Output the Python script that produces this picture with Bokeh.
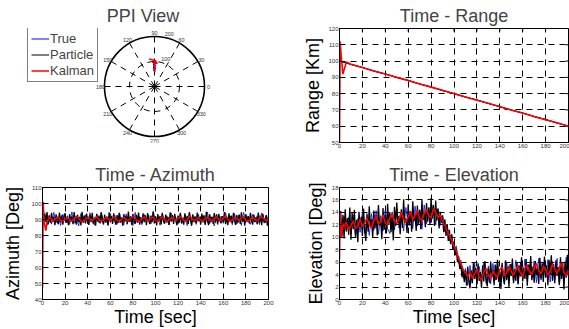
import numpy as np
from bokeh.plotting import figure
from bokeh.layouts import column, row
from bokeh.models import Legend, LegendItem, FixedTicker, Range1d
from bokeh.embed import file_html
from bokeh.resources import INLINE
from bokeh.core.properties import value

FONT = "Liberation Sans"

# ---------------- data ----------------
t_1s = list(range(0, 201))
t_2s = list(range(0, 201, 2))
t_10s = list(range(0, 201, 10))
t_kal = [0, 0.6, 1.5, 3] + list(range(4, 201, 2))
t_range_kal = [0, 0.6, 1.5, 3, 6] + list(range(10, 201, 10))

# Range [km]
range_true = [100, 98, 96, 94, 92, 90, 88, 86, 84, 82, 80, 78, 76, 74, 72, 70, 68, 66, 64, 62, 60]
range_particle = [100.2, 97.9, 96.1, 93.8, 92.1, 89.9, 88.2, 85.9, 84.1, 81.8, 80.1,
                  77.9, 76.2, 73.9, 72.1, 69.8, 68.1, 65.9, 64.2, 61.9, 60.1]
range_kalman = [50, 112, 103, 92, 99.5, 98.1, 96.0, 93.9, 92.1, 90.0, 88.1, 85.9, 84.0, 82.1, 80.0,
                78.0, 75.9, 74.1, 72.0, 70.0, 68.1, 65.9, 64.0, 62.1, 60.0]

# Azimuth [deg]
az_particle = [
    90.4, 87.2, 93.6, 88.5, 94.7, 86.9, 92.3, 87.8, 94.1, 88.6,
    91.8, 86.4, 93.2, 89.1, 87.0, 94.3, 88.2, 92.6, 86.7, 91.5,
    94.0, 87.9, 90.6, 86.5, 93.4, 88.8, 92.0, 87.1, 94.6, 89.3,
    86.8, 93.0, 88.4, 91.7, 86.3, 94.8, 88.0, 92.5, 87.5, 93.7,
    89.0, 86.6, 92.8, 88.3, 94.2, 87.4, 91.2, 86.1, 93.5, 88.7,
    92.4, 87.6, 94.4, 89.4, 86.9, 93.1, 88.1, 91.9, 86.4, 94.5,
    88.6, 92.2, 87.3, 93.9, 89.2, 86.7, 92.7, 87.9, 94.1, 88.0,
    91.4, 86.2, 93.3, 88.9, 92.1, 87.0, 94.9, 88.5, 91.6, 86.6,
    93.6, 89.1, 87.2, 92.9, 88.2, 94.3, 86.8, 91.3, 87.7, 93.8,
    88.4, 92.6, 86.5, 94.0, 89.5, 87.1, 92.4, 88.3, 95.0, 87.6,
    91.9, 86.3, 93.4, 88.8, 92.2, 86.9, 94.2, 89.0, 87.4, 93.0,
    88.1, 91.7, 86.6, 94.5, 88.6, 92.8, 87.3, 93.6, 89.3, 86.4,
    92.5, 88.0, 94.1, 87.5, 91.1, 86.8, 93.9, 88.7, 92.3, 87.2,
    94.6, 89.2, 86.1, 93.2, 88.4, 92.0, 87.8, 94.4, 88.9, 91.5,
    86.7, 93.7, 88.2, 92.6, 87.0, 94.8, 89.1, 86.5, 93.3, 88.5,
    91.8, 87.4, 94.0, 88.1, 92.9, 86.9, 93.5, 89.4, 87.6, 92.1,
    88.3, 94.7, 87.1, 91.6, 86.4, 93.8, 88.8, 92.4, 87.7, 94.2,
    89.0, 86.6, 92.7, 88.0, 93.1, 87.3, 94.5, 88.6, 91.9, 86.2,
    93.4, 88.9, 92.2, 87.5, 94.1, 89.3, 86.8, 93.0, 88.4, 91.4,
    87.0, 94.3, 88.2, 92.5, 86.5, 93.6, 89.1, 87.9, 92.8, 86.1,
    90.2]
az_true = [
    89.6, 93.9, 86.4, 92.7, 87.1, 94.5, 88.0, 91.8, 86.2, 93.3,
    88.9, 92.4, 86.9, 94.8, 87.6, 91.5, 86.0, 93.7, 88.3, 92.9,
    87.2, 94.2, 88.7, 86.5, 93.0, 87.9, 94.6, 88.4, 91.2, 86.3,
    93.8, 88.1, 92.6, 87.0, 94.1, 89.0, 86.7, 93.5, 88.6, 92.2,
    86.1, 94.4, 87.8, 91.9, 86.8, 93.2, 88.5, 92.7, 87.3, 94.9,
    88.2, 91.6, 86.4, 93.6, 87.7, 92.3, 86.6, 94.0, 88.8, 91.4,
    87.1, 93.9, 88.0, 92.8, 86.2, 94.3, 87.5, 91.7, 86.9, 93.1,
    88.3, 92.5, 86.5, 94.7, 87.4, 91.3, 86.0, 93.4, 88.7, 92.0,
    87.6, 94.2, 88.1, 91.8, 86.7, 93.7, 87.2, 92.9, 86.3, 94.5,
    88.6, 91.1, 87.0, 93.3, 88.4, 92.4, 86.8, 94.1, 87.9, 92.6,
    89.8]
az_kalman = [
    47.0, 101.0, 88.0, 83.0,
    88.5, 91.5, 90.2, 89.0, 90.8, 91.6, 89.4, 88.7, 90.3, 91.2,
    89.8, 88.9, 90.6, 92.0, 90.9, 89.1, 88.6, 90.1, 91.4, 90.4,
    89.2, 90.7, 91.8, 89.9, 88.8, 89.7, 91.1, 90.5, 89.3, 90.9,
    91.5, 89.6, 88.5, 90.2, 91.3, 90.0, 89.0, 90.8, 92.1, 90.6,
    89.4, 88.7, 90.4, 91.7, 89.8, 89.1, 90.9, 91.4, 89.5, 88.9,
    90.3, 91.6, 90.1, 88.6, 89.9, 91.0, 90.7, 89.2, 90.5, 91.9,
    90.2, 88.8, 89.6, 92.3, 90.8, 89.3, 90.0, 91.2, 89.7, 88.9,
    90.6, 91.5, 90.1, 89.0, 90.4, 91.8, 89.9, 89.2, 91.0, 92.2,
    90.3, 88.7, 89.8, 91.3, 90.6, 89.4, 90.9, 91.7, 89.5, 88.8,
    90.2, 91.4, 90.0, 89.1, 90.7, 91.9, 90.4, 89.3, 90.5]

# Elevation [deg]
el_particle = [
    12.0, 14.2, 10.1, 13.6, 9.8, 14.5, 11.0, 13.1, 10.4, 14.8,
    9.6, 13.9, 11.3, 14.4, 10.0, 12.8, 9.2, 14.1, 11.6, 13.3,
    10.2, 14.6, 11.1, 9.4, 13.8, 10.9, 15.0, 11.7, 12.9, 9.9,
    14.3, 11.4, 13.5, 10.3, 15.2, 11.9, 12.6, 9.7, 14.7, 11.2,
    13.7, 10.6, 15.4, 12.1, 14.0, 10.8, 13.2, 9.5, 14.9, 11.8,
    15.6, 12.3, 13.4, 10.5, 14.5, 11.5, 16.1, 12.4, 13.0, 10.7,
    15.3, 11.9, 14.2, 10.9, 15.8, 12.6, 13.6, 11.0, 15.1, 12.2,
    14.4, 11.3, 16.0, 12.8, 13.9, 11.6, 15.5, 12.5, 14.8, 12.0,
    16.3, 13.0, 15.2, 11.8, 15.9, 12.7, 14.6, 11.4, 14.1, 12.3,
    13.5, 10.8, 12.9, 10.2, 12.1, 9.4, 11.2, 8.9, 10.4, 8.0,
    9.3, 7.1, 8.2, 6.0, 7.0, 4.9, 5.8, 3.6, 4.9, 2.8,
    4.6, 2.2, 5.3, 3.1, 1.8, 4.7, 2.6, 6.0, 3.3, 5.1,
    2.4, 5.8, 3.0, 4.4, 1.9, 5.5, 2.9, 6.2, 3.4, 2.1,
    5.0, 2.7, 6.1, 3.6, 4.8, 2.3, 5.6, 3.2, 6.4, 2.8,
    4.5, 1.7, 5.9, 3.5, 2.5, 6.3, 3.1, 5.2, 2.0, 5.7,
    3.8, 6.6, 2.6, 4.9, 3.0, 6.0, 2.4, 5.4, 3.7, 6.8,
    2.9, 5.1, 3.3, 6.5, 2.2, 5.6, 4.0, 7.0, 3.1, 5.3,
    2.7, 6.2, 3.9, 5.0, 2.5, 6.7, 3.4, 5.8, 2.8, 6.9,
    3.6, 5.5, 2.3, 6.4, 4.1, 7.1, 3.0, 5.7, 2.6, 6.3,
    3.8, 5.2, 2.4, 6.8, 3.3, 5.9, 1.6, 6.1, 3.5, 7.2,
    4.0]
el_true = [
    11.8, 10.2, 13.4, 10.9, 13.2, 10.5, 13.6, 10.1, 13.0, 10.8,
    14.0, 10.6, 12.9, 10.3, 13.8, 11.1, 14.3, 10.5, 13.5, 11.0,
    14.4, 11.4, 10.6, 14.1, 11.2, 14.6, 11.5, 13.8, 11.0, 14.8,
    11.9, 14.2, 11.4, 15.0, 11.8, 14.4, 11.3, 15.2, 12.2, 14.7,
    12.4, 15.1, 12.0, 14.6, 11.9, 13.5, 10.9, 12.1, 9.4, 10.5,
    7.9, 8.6, 5.8, 6.3, 3.4, 5.0, 2.3, 5.5, 2.7, 5.8,
    2.5, 5.3, 3.0, 5.9, 2.6, 5.4, 2.5, 5.8, 3.1, 6.1,
    2.8, 5.5, 2.4, 6.0, 3.2, 5.7, 2.9, 6.3, 2.6, 5.9,
    3.3, 6.5, 3.0, 5.6, 3.4, 6.2, 2.7, 6.6, 3.1, 6.0,
    3.5, 6.4, 2.8, 6.1, 3.2, 6.6, 2.3, 5.9, 3.0, 6.8,
    3.6]
el_kalman = [
    6.5, 14.0, 10.0, 12.2,
    11.6, 12.4, 11.2, 11.9, 12.6, 11.4, 11.8, 12.9, 11.7, 12.3,
    13.1, 12.0, 11.5, 12.7, 13.4, 12.1, 12.5, 13.6, 12.3, 12.0,
    13.2, 13.8, 12.6, 12.2, 13.0, 14.0, 12.9, 12.4, 13.3, 14.1,
    12.8, 13.5, 14.3, 13.0, 12.7, 13.9, 14.5, 13.4, 13.1, 14.6,
    14.0, 13.2, 13.6, 12.4, 11.9, 11.0, 10.3, 9.6, 8.6, 7.8,
    6.6, 5.9, 4.8, 4.2, 3.7, 4.5, 3.4, 4.1, 4.9, 3.6,
    3.2, 4.4, 5.0, 3.9, 3.3, 4.6, 4.0, 3.5, 4.8, 5.2,
    3.8, 4.3, 5.4, 4.5, 3.9, 4.7, 5.5, 4.2, 3.7, 4.9,
    5.6, 4.4, 4.0, 5.1, 5.8, 4.6, 4.1, 5.3, 4.8, 3.9,
    4.5, 5.7, 4.9, 4.2, 5.0, 5.9, 4.4, 3.8, 4.6]

# ticks
time_ticks = list(range(0, 201, 20))
range_ticks = list(range(50, 121, 10))
az_ticks = list(range(40, 111, 10))
el_ticks = list(range(0, 19, 2))
ppi_angles = [0, 30, 60, 90, 120, 150, 180, 210, 240, 270, 300, 330]
ppi_angle_labels = ["0", "30", "60", "90", "120", "150", "180", "210", "240", "270", "300", "330"]
ppi_rings = [100, 200]

for a, b in [(t_1s, az_particle), (t_2s, az_true), (t_kal, az_kalman), (t_1s, el_particle),
             (t_2s, el_true), (t_kal, el_kalman), (t_10s, range_true), (t_10s, range_particle),
             (t_range_kal, range_kalman)]:
    assert len(a) == len(b), (len(a), len(b))

BLUE, BLACK, RED = "#0000ff", "#000000", "#ff0000"
DASH = "6 5"

# layout constants (px) -- Bokeh's page template has no body margin
W_LEFT, W_RIGHT = 285, 284
H_TOP, H_BOT = 160, 169
TOP_BT, TOP_BB = 28, 18      # top row borders (top/bottom)
BOT_BT, BOT_BB = 26, 29      # bottom row borders
TICK_PX = 3


def style_title(p, standoff, offset=0):
    p.title.text_font = FONT
    p.title.text_font_size = "18px"
    p.title.text_font_style = "normal"
    p.title.align = "center"
    p.title.standoff = standoff
    p.title.offset = offset


# ---------------- PPI view ----------------
KM_PER_PX = 4.0
frame_w = W_LEFT
frame_h = H_TOP - TOP_BT - TOP_BB
cx, cy = 154, 58  # polar centre inside the frame, px from left / top
p1 = figure(width=W_LEFT, height=H_TOP, title="PPI View",
            x_range=Range1d(-cx * KM_PER_PX, (frame_w - cx) * KM_PER_PX),
            y_range=Range1d(-(frame_h - cy) * KM_PER_PX, cy * KM_PER_PX),
            x_axis_location=None, y_axis_location=None, toolbar_location=None,
            output_backend="svg", min_border_left=0, min_border_right=0,
            min_border_top=TOP_BT, min_border_bottom=TOP_BB, outline_line_color=None)
p1.xgrid.visible = False
p1.ygrid.visible = False
style_title(p1, standoff=6, offset=11)

rmax = ppi_rings[-1]
ang = np.deg2rad(ppi_angles)
p1.segment(x0=np.zeros(len(ang)), y0=np.zeros(len(ang)), x1=rmax * np.cos(ang), y1=rmax * np.sin(ang),
           line_color="black", line_width=1, line_dash=DASH)
p1.circle(x=[0], y=[0], radius=ppi_rings[0], fill_color=None, line_color="black", line_width=1, line_dash=DASH)
p1.circle(x=[0], y=[0], radius=rmax, fill_color=None, line_color="black", line_width=1.6)
p1.text(x=1.08 * rmax * np.cos(ang), y=1.08 * rmax * np.sin(ang), text=ppi_angle_labels,
        text_align="center", text_baseline="middle", text_font=value(FONT),
        text_font_size=value("5.5px"), text_color="#333333")
c82 = np.deg2rad(82)
rr = np.array(ppi_rings, dtype=float) + rmax / 40
p1.text(x=rr * np.cos(c82), y=rr * np.sin(c82), text=[str(v) for v in ppi_rings],
        text_align="left", text_baseline="bottom", x_offset=3, text_font=value(FONT),
        text_font_size=value("5.5px"), text_color="#333333")


def polar_xy(t_r, r_vals, t_a, a_vals, tmin=0.0):
    amap = dict(zip(t_a, a_vals))
    xs, ys = [], []
    for t, r in zip(t_r, r_vals):
        if t in amap and t >= tmin:
            th = np.deg2rad(amap[t])
            xs.append(r * np.cos(th))
            ys.append(r * np.sin(th))
    return xs, ys


bx, by = polar_xy(t_10s, range_true, t_2s, az_true)
kx, ky = polar_xy(t_10s, range_particle, t_1s, az_particle)
rx, ry = polar_xy(t_range_kal, range_kalman, t_kal, az_kalman, tmin=0.5)
r_true = p1.line(bx, by, line_color=BLUE, line_width=1)
r_part = p1.line(kx, ky, line_color=BLACK, line_width=1)
r_kal = p1.line(rx, ry, line_color=RED, line_width=1.5)

legend = Legend(items=[LegendItem(label="True", renderers=[r_true]),
                       LegendItem(label="Particle", renderers=[r_part]),
                       LegendItem(label="Kalman", renderers=[r_kal])],
                location=(27, 60), label_text_font=FONT, label_text_font_size="13px",
                glyph_width=18, glyph_height=15, label_height=15, label_standoff=1,
                padding=3, spacing=1, margin=0, border_line_color="black", border_line_width=1,
                background_fill_color="white", background_fill_alpha=1)
p1.add_layout(legend)


# ---------------- time plots ----------------
def style_axis(ax, ticks, label_standoff=1):
    ax.ticker = FixedTicker(ticks=ticks)
    ax.axis_line_color = "black"
    ax.axis_line_width = 1
    ax.major_tick_in = TICK_PX
    ax.major_tick_out = 0
    ax.major_tick_line_color = "black"
    ax.minor_tick_line_color = None
    ax.major_label_text_font = FONT
    ax.major_label_text_font_size = "6px"
    ax.major_label_text_color = "#333333"
    ax.major_label_standoff = 1
    ax.axis_label_text_font = FONT
    ax.axis_label_text_font_size = "18px"
    ax.axis_label_text_font_style = "normal"
    ax.axis_label_text_color = "black"
    ax.axis_label_standoff = label_standoff


def ts_fig(width, height, b_left, b_right, b_top, b_bottom, title, ylabel, yr, yticks,
           xlabel=None, y_standoff=1, title_standoff=6):
    p = figure(width=width, height=height, x_range=Range1d(0, 200), y_range=Range1d(*yr),
               output_backend="svg", toolbar_location=None, title=title,
               min_border_left=b_left, min_border_right=b_right,
               min_border_top=b_top, min_border_bottom=b_bottom,
               outline_line_color="black", outline_line_width=1)
    style_title(p, standoff=title_standoff)
    style_axis(p.xaxis[0], time_ticks, -1)
    style_axis(p.yaxis[0], yticks, y_standoff)
    if xlabel:
        p.xaxis[0].axis_label = xlabel
    p.yaxis[0].axis_label = ylabel
    p.xgrid.ticker = FixedTicker(ticks=time_ticks)
    p.ygrid.ticker = FixedTicker(ticks=yticks)
    for g in (p.xgrid[0], p.ygrid[0]):
        g.grid_line_color = "black"
        g.grid_line_alpha = 1
        g.grid_line_width = 1
        g.grid_line_dash = DASH
    # inward tick marks on the top and right edges of the box (MATLAB "box on")
    fw = width - b_left - b_right
    fh = height - b_top - b_bottom
    y0, y1 = yr
    dy = TICK_PX * (y1 - y0) / fh
    dx = TICK_PX * 200.0 / fw
    xt = np.array(time_ticks, dtype=float)
    yt = np.array(yticks, dtype=float)
    p.segment(x0=xt, y0=np.full(len(xt), y1), x1=xt, y1=np.full(len(xt), y1 - dy),
              line_color="black", line_width=1)
    p.segment(x0=np.full(len(yt), 200.0), y0=yt, x1=np.full(len(yt), 200.0 - dx), y1=yt,
              line_color="black", line_width=1)
    return p


p2 = ts_fig(W_RIGHT, H_TOP, 54, 1, TOP_BT, TOP_BB, "Time - Range", "Range [Km]", (50, 120),
            range_ticks, y_standoff=2, title_standoff=6)
p2.line(t_10s, range_true, line_color=BLUE, line_width=1)
p2.line(t_10s, range_particle, line_color=BLACK, line_width=1)
p2.line(t_range_kal, range_kalman, line_color=RED, line_width=1.6)

p3 = ts_fig(W_LEFT, H_BOT, 41, 17, BOT_BT, BOT_BB, "Time - Azimuth", "Azimuth [Deg]", (40, 110),
            az_ticks, xlabel="Time [sec]", y_standoff=5, title_standoff=5)
p3.line(t_2s, az_true, line_color=BLUE, line_width=0.8)
p3.line(t_1s, az_particle, line_color=BLACK, line_width=1.3)
p3.line(t_kal, az_kalman, line_color=RED, line_width=1.6)

p4 = ts_fig(W_RIGHT, H_BOT, 54, 1, BOT_BT, BOT_BB, "Time - Elevation", "Elevation [Deg]", (0, 18),
            el_ticks, xlabel="Time [sec]", y_standoff=3, title_standoff=5)
p4.line(t_2s, el_true, line_color=BLUE, line_width=0.8)
p4.line(t_1s, el_particle, line_color=BLACK, line_width=1.3)
p4.line(t_kal, el_kalman, line_color=RED, line_width=1.6)

layout = column(row(p1, p2), row(p3, p4))
open("out.html", "w").write(file_html(layout, INLINE))
